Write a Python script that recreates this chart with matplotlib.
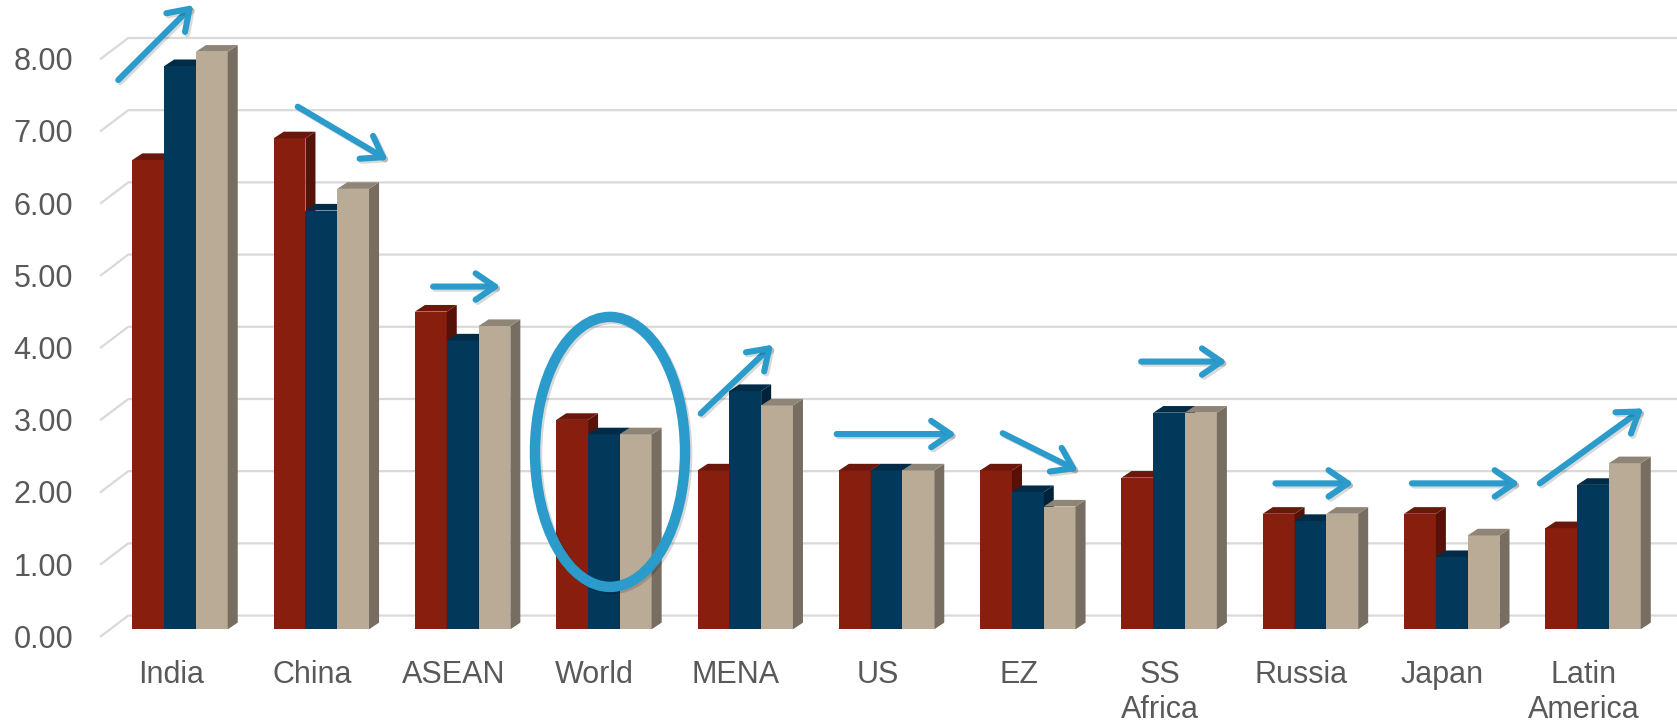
import matplotlib
matplotlib.use("Agg")
import matplotlib.pyplot as plt
from matplotlib.patches import Polygon, Ellipse, FancyArrowPatch, ArrowStyle
import matplotlib.patheffects as pe

# ---- data -------------------------------------------------------------
categories = ["India", "China", "ASEAN", "World", "MENA", "US", "EZ",
              "SS\nAfrica", "Russia", "Japan", "Latin\nAmerica"]
series_1 = [6.5, 6.8, 4.4, 2.9, 2.2, 2.2, 2.2, 2.1, 1.6, 1.6, 1.4]
series_2 = [7.8, 5.8, 4.0, 2.7, 3.3, 2.2, 1.9, 3.0, 1.5, 1.0, 2.0]
series_3 = [8.0, 6.1, 4.2, 2.7, 3.1, 2.2, 1.7, 3.0, 1.6, 1.3, 2.3]
y_ticks = [0, 1, 2, 3, 4, 5, 6, 7, 8]
y_tick_labels = [f"{v:.2f}" for v in y_ticks]

# ---- style ------------------------------------------------------------
plt.rcParams["font.family"] = ["Liberation Sans", "DejaVu Sans"]
TEXT = "#595959"
GRID = "#d9d9d9"
ACCENT = "#2a9bca"
# (front, top, side) shades for each series
SHADES = [
    ("#881e0e", "#6c170b", "#561208"),
    ("#02395a", "#012b46", "#01233a"),
    ("#baab97", "#8f8577", "#776e61"),
]

BAR_W = 0.225          # width of one column
DX, DY = 0.071, 0.092  # oblique depth of each column
WALL_DX, WALL_DY = 0.20, 0.296  # floor depth from the front labels to back wall
FRONT_DY = -0.106      # front plane offset relative to the column faces

fig = plt.figure(figsize=(16.77, 7.23), dpi=100)
ax = fig.add_axes([0, 0, 1, 1])
ax.set_xlim(-1.274, 10.594)
ax.set_ylim(-1.298, 8.716)
ax.axis("off")

# ---- back wall gridlines with oblique floor edge ------------------------
x_front = -0.566
for v, lab in zip(y_ticks, y_tick_labels):
    yf = v + FRONT_DY
    yb = yf + WALL_DY
    ax.plot([x_front, x_front + WALL_DX, ax.get_xlim()[1]], [yf, yb, yb],
            color=GRID, lw=1.6, zorder=1, solid_capstyle="butt")
    ax.text(-0.757, yf - 0.15, lab, ha="right", va="baseline",
            fontsize=22, color=TEXT)

# ---- 3D-looking columns ---------------------------------------------------
series = [series_1, series_2, series_3]
for i in range(len(categories)):
    for k, vals in enumerate(series):
        front, top, side = SHADES[k]
        xl = i + (k - 1.5) * BAR_W
        xr = xl + BAR_W
        v = vals[i]
        z = 3 + k
        ax.bar(xl, v, width=BAR_W, align="edge", color=front,
               edgecolor="none", zorder=z)
        ax.add_patch(Polygon([(xr, 0), (xr + DX, DY), (xr + DX, v + DY), (xr, v)],
                             closed=True, facecolor=side, edgecolor="none", zorder=z))
        ax.add_patch(Polygon([(xl, v), (xr, v), (xr + DX, v + DY), (xl + DX, v + DY)],
                             closed=True, facecolor=top, edgecolor="none", zorder=z))

# ---- category labels ------------------------------------------------------
for i, name in enumerate(categories):
    for j, line in enumerate(name.split("\n")):
        ax.text(i - 0.065, -0.748 - j * 0.48, line, ha="center", va="baseline",
                fontsize=22, color=TEXT)

# ---- trend arrows and highlight -------------------------------------------
arrows = [
    ((-0.437, 7.608), (0.094, 8.647)),
    ((0.833, 7.238), (1.470, 6.500)),
    ((1.791, 4.747), (2.268, 4.747)),
    ((3.685, 2.988), (4.197, 3.942)),
    ((4.647, 2.704), (5.492, 2.704)),
    ((5.822, 2.716), (6.355, 2.195)),
    ((6.802, 3.708), (7.408, 3.708)),
    ((7.752, 2.021), (8.304, 2.021)),
    ((8.718, 2.021), (9.480, 2.021)),
    ((9.623, 2.021), (10.356, 3.060)),
]
shadow = [pe.SimpleLineShadow(offset=(1.5, -1.5), shadow_color="black", alpha=0.15),
          pe.Normal()]
for tail, tip in arrows:
    arr = FancyArrowPatch(tail, tip,
                          arrowstyle=ArrowStyle("->", head_length=14, head_width=9.5),
                          mutation_scale=1, lw=4.4, color=ACCENT,
                          shrinkA=0, shrinkB=0, capstyle="round",
                          joinstyle="round", zorder=10)
    arr.set_path_effects(shadow)
    ax.add_patch(arr)

ring = Ellipse((3.043, 2.457), width=1.062, height=3.74, fill=False,
               edgecolor=ACCENT, lw=7.5, zorder=10)
ring.set_path_effects(shadow)
ax.add_patch(ring)

fig.savefig("out.png", dpi=100)
